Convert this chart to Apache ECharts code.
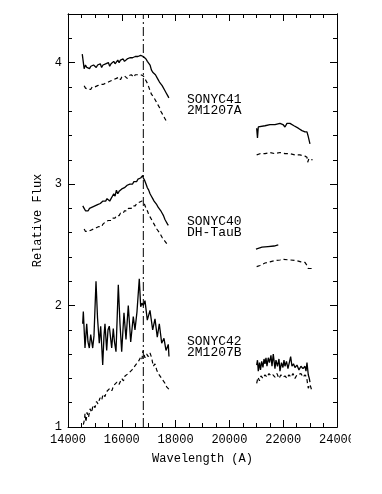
<!DOCTYPE html>
<html><head><meta charset="utf-8">
<script src="https://cdn.jsdelivr.net/npm/echarts@6/dist/echarts.min.js"></script>
<style>html,body{margin:0;padding:0;background:#fff}#c{width:382px;height:494px}</style>
</head><body><div id="c"></div>
<script>
// ---- Data (wavelength in A, relative flux) ----
const c41Solid = [[14530,4.07],[14560,4.08],[14600,3.95],[14650,3.98],[14700,3.96],[14750,3.97],[14800,3.95],[14850,3.97],[14900,3.96],[14950,3.98],[15000,3.97],[15050,3.96],[15100,3.98],[15150,3.97],[15200,3.99],[15250,3.96],[15300,3.98],[15350,3.97],[15400,3.99],[15450,3.98],[15500,4.00],[15550,3.97],[15600,3.99],[15650,3.98],[15700,4.01],[15750,3.99],[15800,4.00],[15850,4.02],[15900,4.00],[15950,4.02],[16000,4.01],[16050,4.03],[16100,4.01],[16150,4.02],[16200,4.03],[16250,4.02],[16300,4.04],[16350,4.03],[16400,4.04],[16450,4.03],[16500,4.05],[16550,4.04],[16600,4.05],[16650,4.04],[16700,4.06],[16750,4.05],[16800,4.05],[16850,4.04],[16900,4.03],[16950,4.01],[17000,4.00],[17050,3.98],[17100,3.94],[17150,3.92],[17200,3.91],[17250,3.90],[17300,3.89],[17350,3.86],[17400,3.84],[17450,3.83],[17500,3.81],[17550,3.80],[17600,3.77],[17650,3.75],[17700,3.73],[17750,3.71]];
const c41Dash = [[14600,3.81],[14650,3.79],[14700,3.80],[14750,3.78],[14800,3.79],[14850,3.78],[14900,3.80],[14950,3.79],[15000,3.80],[15050,3.79],[15100,3.81],[15150,3.80],[15200,3.82],[15250,3.81],[15300,3.82],[15350,3.81],[15400,3.83],[15450,3.82],[15500,3.84],[15550,3.83],[15600,3.85],[15650,3.84],[15700,3.86],[15750,3.85],[15800,3.87],[15850,3.86],[15900,3.88],[15950,3.86],[16000,3.88],[16050,3.87],[16100,3.89],[16150,3.88],[16200,3.87],[16250,3.89],[16300,3.88],[16350,3.90],[16400,3.89],[16450,3.88],[16500,3.90],[16550,3.89],[16600,3.90],[16650,3.89],[16700,3.90],[16750,3.91],[16800,3.89],[16850,3.87],[16900,3.85],[16950,3.83],[17000,3.80],[17050,3.77],[17100,3.74],[17150,3.73],[17200,3.71],[17250,3.69],[17300,3.67],[17350,3.65],[17400,3.63],[17450,3.60],[17500,3.58],[17550,3.56],[17600,3.54],[17650,3.52],[17700,3.50]];
const c41SolidK = [[21014,3.46],[21044,3.38],[21074,3.47],[21137,3.47],[21323,3.48],[21508,3.49],[21694,3.49],[21880,3.50],[21991,3.49],[22066,3.47],[22140,3.50],[22252,3.50],[22400,3.48],[22560,3.46],[22698,3.44],[22809,3.43],[22884,3.43],[22921,3.40],[22995,3.33]];
const c41DashK = [[21014,3.24],[21137,3.25],[21323,3.25],[21508,3.26],[21694,3.25],[21880,3.26],[22066,3.25],[22252,3.25],[22438,3.24],[22624,3.24],[22809,3.23],[22884,3.22],[22910,3.18],[22958,3.21],[23033,3.20],[23096,3.20]];

const c40Solid = [[14550,2.82],[14600,2.80],[14650,2.78],[14700,2.79],[14750,2.78],[14800,2.80],[14850,2.79],[14900,2.81],[14950,2.80],[15000,2.82],[15050,2.81],[15100,2.83],[15150,2.82],[15200,2.84],[15250,2.83],[15300,2.86],[15350,2.85],[15400,2.86],[15450,2.88],[15500,2.87],[15550,2.86],[15600,2.88],[15650,2.90],[15700,2.92],[15750,2.90],[15800,2.95],[15850,2.92],[15900,2.94],[15950,2.93],[16000,2.96],[16050,2.95],[16100,2.97],[16150,2.98],[16200,2.99],[16250,2.98],[16300,3.00],[16350,3.01],[16400,3.00],[16450,3.02],[16500,3.03],[16550,3.02],[16600,3.04],[16650,3.03],[16700,3.05],[16750,3.06],[16780,3.07],[16800,3.05],[16850,3.03],[16900,3.00],[16950,2.97],[17000,2.95],[17050,2.92],[17100,2.90],[17150,2.88],[17200,2.86],[17250,2.85],[17300,2.83],[17350,2.81],[17400,2.80],[17450,2.78],[17500,2.76],[17550,2.74],[17600,2.71],[17650,2.69],[17700,2.67],[17730,2.66]];
const c40Dash = [[14600,2.63],[14650,2.61],[14700,2.60],[14750,2.61],[14800,2.60],[14850,2.62],[14900,2.61],[14950,2.63],[15000,2.62],[15050,2.64],[15100,2.63],[15150,2.65],[15200,2.66],[15250,2.65],[15300,2.67],[15350,2.68],[15400,2.69],[15450,2.68],[15500,2.70],[15550,2.71],[15600,2.70],[15650,2.72],[15700,2.73],[15750,2.72],[15800,2.74],[15850,2.75],[15900,2.74],[15950,2.76],[16000,2.77],[16050,2.76],[16100,2.78],[16150,2.79],[16200,2.78],[16250,2.80],[16300,2.81],[16350,2.80],[16400,2.82],[16450,2.83],[16500,2.82],[16550,2.84],[16600,2.83],[16650,2.85],[16700,2.84],[16750,2.86],[16800,2.85],[16850,2.83],[16900,2.80],[16950,2.78],[17000,2.75],[17050,2.73],[17100,2.71],[17150,2.69],[17200,2.67],[17250,2.65],[17300,2.63],[17350,2.62],[17400,2.60],[17450,2.58],[17500,2.56],[17550,2.55],[17600,2.53],[17650,2.52],[17700,2.50]];
const c40SolidK = [[20988,2.465],[21211,2.48],[21434,2.485],[21657,2.49],[21817,2.50]];
const c40DashK = [[21014,2.32],[21137,2.33],[21323,2.35],[21508,2.36],[21694,2.37],[21880,2.375],[22003,2.38],[22252,2.375],[22500,2.37],[22660,2.36],[22809,2.355],[22884,2.33],[22932,2.305],[22995,2.32],[23118,2.305]];

const c42Solid = [[14546,1.85],[14570,1.95],[14632,1.65],[14695,1.85],[14743,1.70],[14792,1.65],[14844,1.76],[14918,1.65],[14966,1.75],[15041,2.20],[15097,1.90],[15163,1.69],[15215,1.83],[15290,1.51],[15338,1.75],[15375,1.85],[15438,1.63],[15487,1.80],[15535,1.83],[15624,1.65],[15684,1.81],[15728,1.70],[15784,1.62],[15870,2.17],[15933,1.85],[15996,1.62],[16081,1.94],[16156,1.72],[16241,2.00],[16331,1.70],[16427,1.91],[16490,1.80],[16565,1.95],[16650,2.22],[16702,1.99],[16751,2.02],[16799,2.00],[16862,2.04],[16948,1.88],[17048,1.96],[17148,1.80],[17234,1.89],[17319,1.74],[17394,1.85],[17483,1.69],[17568,1.73],[17643,1.63],[17728,1.68],[17754,1.58]];
const c42Dash = [[14570,1.02],[14613,1.06],[14632,1.11],[14669,1.04],[14706,1.12],[14762,1.08],[14818,1.15],[14881,1.12],[14929,1.18],[15004,1.16],[15060,1.21],[15115,1.19],[15190,1.24],[15253,1.22],[15301,1.27],[15375,1.25],[15431,1.29],[15498,1.28],[15561,1.32],[15635,1.30],[15691,1.34],[15747,1.33],[15821,1.37],[15896,1.35],[15996,1.40],[16063,1.38],[16119,1.42],[16193,1.41],[16241,1.44],[16305,1.43],[16379,1.47],[16453,1.46],[16509,1.51],[16565,1.50],[16620,1.54],[16676,1.53],[16713,1.58],[16751,1.56],[16788,1.63],[16825,1.60],[16862,1.57],[16925,1.60],[16985,1.58],[17048,1.61],[17110,1.57],[17170,1.50],[17234,1.52],[17297,1.47],[17357,1.44],[17420,1.45],[17483,1.40],[17542,1.41],[17605,1.36],[17668,1.33],[17728,1.34],[17754,1.31]];
const c42SolidK = [[21014,1.51],[21044,1.55],[21074,1.46],[21119,1.53],[21156,1.47],[21200,1.54],[21248,1.49],[21286,1.56],[21323,1.52],[21360,1.57],[21397,1.50],[21445,1.57],[21490,1.53],[21545,1.59],[21583,1.50],[21631,1.60],[21694,1.48],[21731,1.55],[21787,1.50],[21843,1.56],[21880,1.46],[21936,1.53],[21991,1.49],[22029,1.55],[22066,1.50],[22122,1.54],[22177,1.48],[22277,1.58],[22326,1.50],[22382,1.52],[22438,1.49],[22512,1.51],[22586,1.47],[22660,1.50],[22735,1.48],[22809,1.50],[22847,1.46],[22884,1.53],[22932,1.43],[22970,1.40],[22995,1.37]];
const c42DashK = [[21014,1.36],[21063,1.41],[21119,1.38],[21174,1.42],[21248,1.40],[21323,1.43],[21397,1.41],[21471,1.44],[21545,1.42],[21620,1.43],[21694,1.41],[21768,1.44],[21843,1.40],[21917,1.43],[21991,1.41],[22066,1.42],[22140,1.40],[22214,1.43],[22289,1.41],[22363,1.44],[22438,1.40],[22512,1.43],[22586,1.42],[22660,1.44],[22735,1.41],[22809,1.43],[22872,1.41],[22902,1.36],[22932,1.32],[22995,1.35],[23051,1.31],[23118,1.30]];

const refLine = [[16800,1],[16800,4.4]];
const labelsText = [["SONYC41","2M1207A"],["SONYC40","DH-TauB"],["SONYC42","2M1207B"]];
const xMin = 14000, xMax = 24000, xStep = 2000;
const yMin = 1, yMax = 4.4;

const FONT = '"Liberation Mono", monospace';
const solid = d => ({type:'line', data:d, showSymbol:false, symbol:'none', animation:false, lineStyle:{color:'#000', width:1.3}});
const dashed = d => ({type:'line', data:d, showSymbol:false, symbol:'none', animation:false, lineStyle:{color:'#000', width:1.2, type:[4,3]}});

const baseX = (pos, show) => ({
  type:'value', min:xMin, max:xMax, interval:xStep, position:pos, gridIndex:0,
  axisLine:{show:true, onZero:false, lineStyle:{color:'#000', width:1}},
  axisTick:{show:true, inside:true, length:7, lineStyle:{color:'#000'}},
  minorTick:{show:true, splitNumber:4, length:4, lineStyle:{color:'#000'}},
  splitLine:{show:false},
  axisLabel:{show:show, color:'#000', fontFamily:FONT, fontSize:12, margin:7, formatter: v => String(v)},
});
const baseY = (pos, interval, len, show) => ({
  type:'value', min:yMin, max:yMax, interval:interval, position:pos, gridIndex:0,
  axisLine:{show:true, onZero:false, lineStyle:{color:'#000', width:1}},
  axisTick:{show:true, inside:true, length:len, lineStyle:{color:'#000'}},
  splitLine:{show:false},
  axisLabel:{show:show, color:'#000', fontFamily:FONT, fontSize:12, margin:6, showMaxLabel:false, formatter: v => String(v)},
});

const xAxes = [
  Object.assign(baseX('bottom', true), {name:'Wavelength (A)', nameLocation:'middle', nameGap:26, nameTextStyle:{color:'#000', fontFamily:FONT, fontSize:12}}),
  baseX('top', false)
];
const yAxes = [
  Object.assign(baseY('left', 1, 7, true), {name:'Relative Flux', nameLocation:'middle', nameGap:18, nameRotate:90, nameTextStyle:{color:'#000', fontFamily:FONT, fontSize:12}}),
  baseY('left', 0.2, 4, false),
  baseY('right', 1, 7, false),
  baseY('right', 0.2, 4, false)
];

const labelPos = [[187,100,111.5],[187,222,233],[187,342,353]];
const graphics = [];
labelsText.forEach((pair, i) => {
  graphics.push({type:'text', left:labelPos[i][0], top:labelPos[i][1]-7, style:{text:pair[0], font:'13px ' + FONT, fill:'#000'}});
  graphics.push({type:'text', left:labelPos[i][0], top:labelPos[i][2]-7, style:{text:pair[1], font:'13px ' + FONT, fill:'#000'}});
});
graphics.push({type:'rect', shape:{x:351, y:430, width:31, height:20}, style:{fill:'#fff'}, z:100});

const chart = echarts.init(document.getElementById('c'), null, {renderer:'canvas'});
chart.setOption({
  backgroundColor:'#fff',
  animation:false,
  grid:{left:68, right:45, top:14, bottom:67, containLabel:false},
  xAxis:xAxes,
  yAxis:yAxes,
  graphic:graphics,
  series:[
    solid(c41Solid), dashed(c41Dash), solid(c41SolidK), dashed(c41DashK),
    solid(c40Solid), dashed(c40Dash), solid(c40SolidK), dashed(c40DashK),
    solid(c42Solid), dashed(c42Dash), solid(c42SolidK), dashed(c42DashK),
    {type:'line', data:refLine, showSymbol:false, symbol:'none', animation:false, lineStyle:{color:'#000', width:1, type:[9,3,2,3]}}
  ]
});
</script></body></html>
